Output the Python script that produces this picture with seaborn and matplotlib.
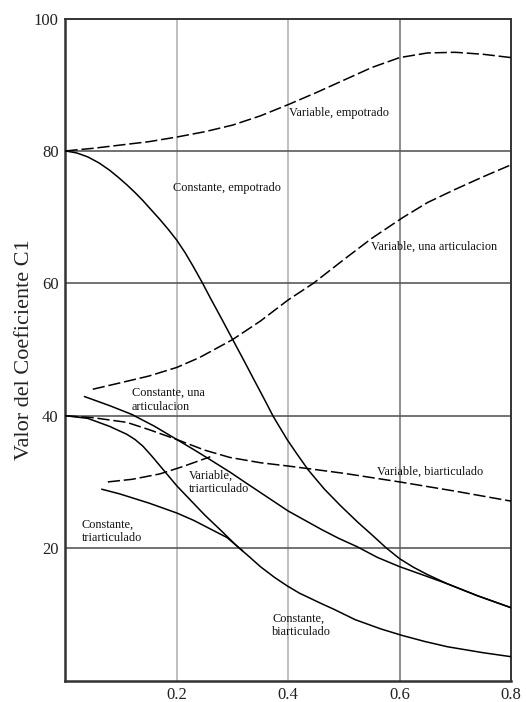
import matplotlib
matplotlib.use("Agg")
import matplotlib.pyplot as plt
import seaborn as sns
import pandas as pd

# Coefficient C1 curves: (ratio, value) pairs per case
var_empotrado_x = [0, 0.05, 0.1, 0.15, 0.2, 0.25, 0.3, 0.35, 0.4, 0.45, 0.5, 0.55, 0.6, 0.65, 0.7, 0.75, 0.8]
var_empotrado_y = [80, 80.4, 80.9, 81.4, 82.1, 82.9, 83.9, 85.3, 87.0, 88.8, 90.7, 92.6, 94.1, 94.8, 94.9, 94.6, 94.1]

const_empotrado_x = [0, 0.02, 0.04, 0.06, 0.079, 0.095, 0.11, 0.125, 0.139, 0.155, 0.17, 0.185, 0.2,
                     0.215, 0.229, 0.245, 0.26, 0.28, 0.299, 0.32, 0.34, 0.357, 0.373, 0.398,
                     0.415, 0.436, 0.465, 0.494, 0.525, 0.553, 0.575, 0.6, 0.625, 0.65, 0.686,
                     0.74, 0.8]
const_empotrado_y = [80, 79.7, 79.1, 78.2, 77.1, 76.0, 74.9, 73.7, 72.5, 71.0, 69.6, 68.1, 66.5,
                     64.6, 62.6, 60.2, 57.8, 54.7, 51.7, 48.4, 45.2, 42.5, 39.9, 36.4,
                     34.3, 31.8, 28.9, 26.4, 23.9, 21.8, 20.1, 18.4, 17.1, 16.0, 14.6,
                     12.8, 11.0]

var_una_x = [0.049, 0.1, 0.15, 0.2, 0.241, 0.3, 0.35, 0.4, 0.445, 0.5, 0.55, 0.605, 0.65, 0.7, 0.75, 0.8]
var_una_y = [44.0, 45.0, 46.0, 47.3, 48.8, 51.5, 54.3, 57.5, 60.0, 63.6, 66.8, 69.9, 72.2, 74.2, 76.1, 77.9]

const_una_x = [0.034, 0.08, 0.119, 0.16, 0.2, 0.23, 0.259, 0.295, 0.325, 0.35, 0.375, 0.4, 0.43,
               0.46, 0.49, 0.524, 0.56, 0.6, 0.65, 0.686, 0.74, 0.8]
const_una_y = [42.9, 41.5, 40.2, 38.4, 36.4, 34.9, 33.4, 31.5, 29.8, 28.4, 27.0, 25.6, 24.2,
               22.8, 21.5, 20.2, 18.6, 17.2, 15.7, 14.6, 12.8, 11.0]

var_biart_x = [0, 0.05, 0.11, 0.15, 0.2, 0.25, 0.295, 0.35, 0.4, 0.5, 0.6, 0.7, 0.8]
var_biart_y = [40, 39.7, 39.0, 37.9, 36.4, 34.8, 33.7, 32.9, 32.4, 31.3, 30.0, 28.6, 27.1]

const_biart_x = [0, 0.04, 0.079, 0.11, 0.125, 0.139, 0.155, 0.175, 0.19, 0.2, 0.225, 0.25, 0.28,
                 0.308, 0.33, 0.35, 0.375, 0.398, 0.42, 0.44, 0.46, 0.481, 0.52, 0.566, 0.605,
                 0.645, 0.686, 0.75, 0.8]
const_biart_y = [40, 39.6, 38.4, 37.2, 36.4, 35.4, 33.9, 31.9, 30.4, 29.4, 27.2, 25.0, 22.6,
                 20.3, 18.7, 17.2, 15.6, 14.3, 13.2, 12.4, 11.6, 10.8, 9.2, 7.8, 6.8,
                 5.9, 5.1, 4.2, 3.6]

const_triart_x = [0.065, 0.097, 0.15, 0.2, 0.23, 0.26, 0.29, 0.318]
const_triart_y = [28.9, 28.2, 26.8, 25.3, 24.2, 22.9, 21.6, 19.6]

var_triart_x = [0.076, 0.12, 0.169, 0.21, 0.26]
var_triart_y = [30.0, 30.4, 31.2, 32.3, 33.8]

x_ticks = [0.2, 0.4, 0.6, 0.8]
y_ticks = [20, 40, 60, 80, 100]
y_label = "Valor del Coeficiente C1"

sns.set_style("white")
plt.rcParams["font.family"] = ["Liberation Serif", "DejaVu Serif"]

fig = plt.figure(figsize=(5.26, 7.02), dpi=100)
ax = fig.add_axes([0.1245, 0.0306, 0.9715 - 0.1245, 0.9736 - 0.0306])

# grid
for gx, gc in [(0.2, "#b4b4b4"), (0.4, "#b4b4b4"), (0.6, "#7a7a7a")]:
    ax.axvline(gx, color=gc, lw=1.2, zorder=1)
for gy in [20, 40, 60, 80]:
    ax.axhline(gy, color="#5a5a5a", lw=1.2, zorder=1)

dashed = (0, (8, 2.5))
curves = [
    (var_empotrado_x, var_empotrado_y, dashed),
    (const_empotrado_x, const_empotrado_y, "-"),
    (var_una_x, var_una_y, dashed),
    (const_una_x, const_una_y, "-"),
    (var_biart_x, var_biart_y, dashed),
    (const_biart_x, const_biart_y, "-"),
    (const_triart_x, const_triart_y, "-"),
    (var_triart_x, var_triart_y, dashed),
]
for xs, ys, ls in curves:
    df = pd.DataFrame({"x": xs, "y": ys})
    sns.lineplot(data=df, x="x", y="y", ax=ax, color="black", lw=1.1,
                 linestyle=ls, sort=False, estimator=None, zorder=3)

labels = [
    (0.402, 85.7, "Variable, empotrado"),
    (0.193, 74.4, "Constante, empotrado"),
    (0.548, 65.5, "Variable, una articulacion"),
    (0.119, 42.4, "Constante, una\narticulacion"),
    (0.559, 31.6, "Variable, biarticulado"),
    (0.222, 29.95, "Variable,\ntriarticulado"),
    (0.029, 22.55, "Constante,\ntriarticulado"),
    (0.371, 8.4, "Constante,\nbiarticulado"),
]
for lx, ly, txt in labels:
    ax.text(lx, ly, txt, fontsize=8.8, ha="left", va="center", color="#111111",
            linespacing=1.15, zorder=4)

ax.set_xlim(0, 0.8)
ax.set_ylim(0, 100)
ax.set_xticks(x_ticks)
ax.set_xticklabels([f"{t:.1f}" for t in x_ticks])
ax.set_yticks(y_ticks)
ax.set_yticklabels([str(t) for t in y_ticks])
ax.tick_params(length=0, labelsize=12, pad=5, colors="#222222")
ax.set_xlabel("")
ax.set_ylabel(y_label, fontsize=16, labelpad=0, color="#222222")

for side in ["left", "bottom", "right", "top"]:
    ax.spines[side].set_color("#333333")
ax.spines["left"].set_linewidth(1.8)
ax.spines["bottom"].set_linewidth(1.8)
ax.spines["right"].set_linewidth(1.4)
ax.spines["top"].set_linewidth(1.4)

fig.savefig("out.png", dpi=100)
